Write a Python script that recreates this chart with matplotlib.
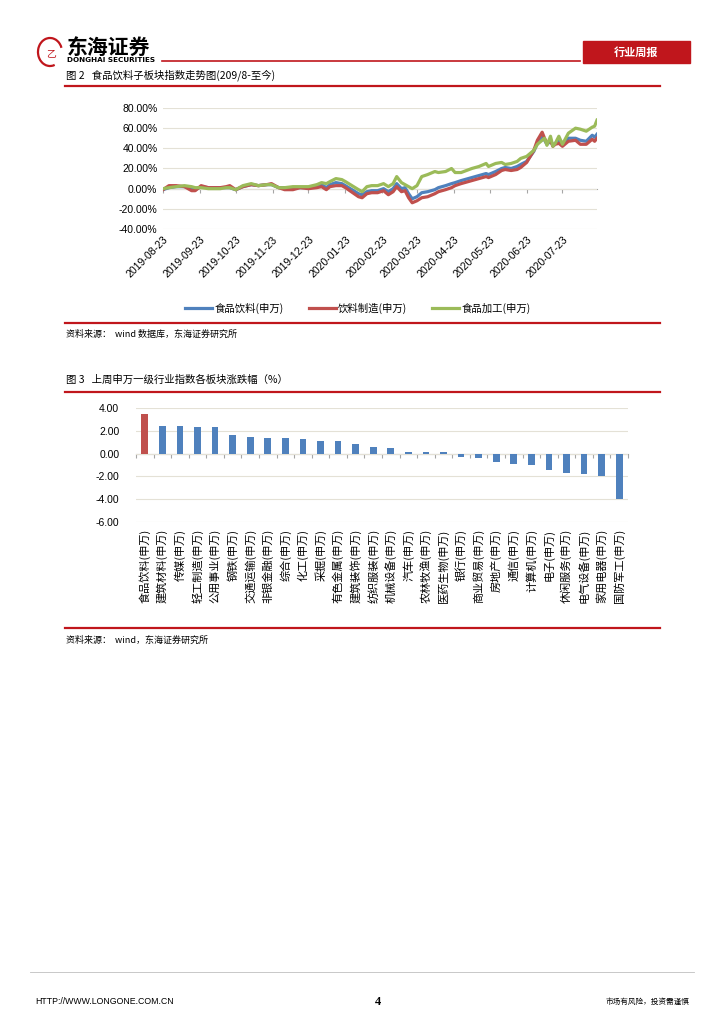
import matplotlib
matplotlib.use("Agg")
import matplotlib.pyplot as plt
import matplotlib.dates as mdates
from matplotlib.patches import Arc, Rectangle
import pandas as pd

plt.rcParams['font.family'] = ['Noto Sans CJK SC', 'DejaVu Sans']

# ---- chart 1 data: index change since 2019-08-23 (%) ----
dates = ["2019-08-23", "2019-08-28", "2019-09-03", "2019-09-10", "2019-09-16", "2019-09-19",
         "2019-09-24", "2019-09-30", "2019-10-10", "2019-10-15", "2019-10-18", "2019-10-23",
         "2019-10-29", "2019-11-05", "2019-11-11", "2019-11-18", "2019-11-22", "2019-11-28",
         "2019-12-03", "2019-12-10", "2019-12-16", "2019-12-23", "2019-12-30", "2020-01-03",
         "2020-01-07", "2020-01-10", "2020-01-15", "2020-01-20", "2020-01-23", "2020-02-03",
         "2020-02-06", "2020-02-10", "2020-02-14", "2020-02-19", "2020-02-24", "2020-02-28",
         "2020-03-03", "2020-03-06", "2020-03-10", "2020-03-13", "2020-03-16", "2020-03-19",
         "2020-03-23", "2020-03-27", "2020-04-01", "2020-04-07", "2020-04-10", "2020-04-16",
         "2020-04-21", "2020-04-24", "2020-04-29", "2020-05-08", "2020-05-14", "2020-05-20",
         "2020-05-22", "2020-05-28", "2020-06-02", "2020-06-05", "2020-06-10", "2020-06-15",
         "2020-06-18", "2020-06-23", "2020-06-29", "2020-07-02", "2020-07-06", "2020-07-08",
         "2020-07-10", "2020-07-13", "2020-07-15", "2020-07-17", "2020-07-20", "2020-07-23",
         "2020-07-28", "2020-08-03", "2020-08-07", "2020-08-12", "2020-08-17", "2020-08-19",
         "2020-08-21"]
food_bev = [-1, 1, 2, 2, 0, -1, 2, 1, 1, 1, 1, -1,
            2, 4, 3, 4, 4, 1, 1, 1, 1, 1, 3, 4,
            1, 4, 6, 5, 3, -5, -6, -3, -2, -2, 0, -3,
            0, 5, 0, 1, -5, -10, -8, -4, -3, -1, 1, 3,
            5, 6, 8, 11, 13, 15, 14, 17, 20, 21, 20, 22,
            24, 27, 37, 45, 52, 48, 44, 47, 43, 45, 47, 44,
            50, 50, 48, 47, 53, 51, 54]
beverage = [-1, 3, 3, 2, -2, -2, 3, 1, 1, 2, 3, -1,
            2, 4, 3, 4, 5, 1, -1, -1, 1, 0, 1, 2,
            -1, 2, 3, 3, 1, -8, -9, -5, -4, -4, -2, -6,
            -3, 2, -3, -2, -9, -14, -12, -9, -8, -5, -3, -1,
            1, 3, 5, 8, 10, 12, 11, 14, 18, 19, 18, 19,
            21, 26, 38, 48, 56, 50, 45, 48, 42, 44, 45, 42,
            47, 48, 44, 44, 49, 47, 50]
food_proc = [0, 1, 2, 3, 2, 1, 1, 0, 0, 1, 1, -1,
             3, 5, 3, 4, 4, 1, 1, 2, 2, 2, 4, 6,
             5, 7, 10, 9, 7, -1, -3, 2, 3, 3, 5, 2,
             5, 12, 6, 4, 2, 0, 3, 12, 14, 17, 16, 17,
             20, 16, 16, 20, 22, 25, 22, 25, 26, 24, 25, 27,
             30, 32, 38, 44, 48, 50, 43, 52, 42, 45, 52, 44,
             55, 60, 59, 57, 61, 62, 68]
month_ticks = ["2019-08-23", "2019-09-23", "2019-10-23", "2019-11-23", "2019-12-23",
               "2020-01-23", "2020-02-23", "2020-03-23", "2020-04-23", "2020-05-23",
               "2020-06-23", "2020-07-23"]
series_names = ["食品饮料(申万)", "饮料制造(申万)", "食品加工(申万)"]

# ---- chart 2 data: last week change of SW level-1 industries (%) ----
industries = ["食品饮料(申万)", "建筑材料(申万)", "传媒(申万)", "轻工制造(申万)", "公用事业(申万)",
              "钢铁(申万)", "交通运输(申万)", "非银金融(申万)", "综合(申万)", "化工(申万)",
              "采掘(申万)", "有色金属(申万)", "建筑装饰(申万)", "纺织服装(申万)", "机械设备(申万)",
              "汽车(申万)", "农林牧渔(申万)", "医药生物(申万)", "银行(申万)", "商业贸易(申万)",
              "房地产(申万)", "通信(申万)", "计算机(申万)", "电子(申万)", "休闲服务(申万)",
              "电气设备(申万)", "家用电器(申万)", "国防军工(申万)"]
changes = [3.48, 2.42, 2.42, 2.36, 2.30, 1.64, 1.46, 1.40, 1.40, 1.25,
           1.08, 1.08, 0.84, 0.58, 0.46, 0.14, 0.14, 0.14, -0.29, -0.35,
           -0.70, -0.88, -1.00, -1.40, -1.74, -1.82, -1.97, -4.00]

BLUE, RED, GREEN = "#4F81BD", "#C0504D", "#9BBB59"
PAGE_RED = "#C0161C"
GRID = "#E4E1D6"
AXIS_GRAY = "#A6A6A6"

W, H = 724, 1024
fig = plt.figure(figsize=(W / 100, H / 100), dpi=100)


def rect(x0, y0, x1, y1):
    # pixel box (top-left origin) -> figure fraction
    return [x0 / W, 1 - y1 / H, (x1 - x0) / W, (y1 - y0) / H]


# ---- page layer ----
page = fig.add_axes([0, 0, 1, 1])
page.set_xlim(0, W)
page.set_ylim(H, 0)
page.axis("off")

# logo
page.add_patch(Arc((50, 52), 24, 28, theta1=70, theta2=340, color=PAGE_RED, lw=1.6))
page.text(51, 53, "乙", color=PAGE_RED, fontsize=7, ha="center", va="center")
page.text(67, 47, "东海证券", fontsize=15, fontweight="bold", ha="left", va="center")
page.text(67, 60, "DONGHAI SECURITIES", fontsize=5.2, fontweight="bold",
          family="DejaVu Sans", ha="left", va="center")
page.plot([162, 580], [61, 61], color=PAGE_RED, lw=1.2)
page.add_patch(Rectangle((583, 41), 107, 22, color=PAGE_RED))
page.text(636, 52, "行业周报", color="white", fontsize=8, fontweight="bold",
          ha="center", va="center")

page.text(66, 75, "图 2   食品饮料子板块指数走势图(209/8-至今)", fontsize=7.5,
          ha="left", va="center")
page.plot([65, 660], [86, 86], color=PAGE_RED, lw=1.6)
page.plot([65, 660], [323, 323], color=PAGE_RED, lw=1.6)
page.text(66, 334, "资料来源：  wind 数据库，东海证券研究所", fontsize=6.5, ha="left", va="center")

page.text(66, 380, "图 3   上周申万一级行业指数各板块涨跌幅（%）", fontsize=7.5,
          ha="left", va="center")
page.plot([65, 660], [392, 392], color=PAGE_RED, lw=1.6)
page.plot([65, 660], [628, 628], color=PAGE_RED, lw=1.6)
page.text(66, 640, "资料来源：  wind，东海证券研究所", fontsize=6.5, ha="left", va="center")

page.plot([30, 694], [972, 972], color="#BFBFBF", lw=0.6)
page.text(35, 1002, "HTTP://WWW.LONGONE.COM.CN", fontsize=6.3, family="Liberation Sans",
          ha="left", va="center")
page.text(378, 1002, "4", fontsize=9, fontweight="bold", family="Liberation Serif",
          ha="center", va="center")
page.text(690, 1002, "市场有风险，投资需谨慎", fontsize=5.5, ha="right", va="center")

# ---- chart 1: line chart ----
x = mdates.date2num(pd.to_datetime(dates))
xt = mdates.date2num(pd.to_datetime(month_ticks))

ax1 = fig.add_axes(rect(163, 108, 597, 229))
lines = []
for vals, col, name in zip([food_bev, beverage, food_proc], [BLUE, RED, GREEN], series_names):
    ln, = ax1.plot(x, vals, color=col, lw=2.3, label=name, solid_joinstyle="round")
    lines.append(ln)
ax1.set_xlim(x[0], x[-1])
ax1.set_ylim(-40, 80)
ax1.set_yticks(range(-40, 81, 20))
ax1.set_yticklabels([f"{v:.2f}%" for v in range(-40, 81, 20)], fontsize=7.5,
                    family="Liberation Sans")
ax1.set_xticks(xt)
ax1.set_xticklabels(month_ticks, rotation=45, ha="right", rotation_mode="anchor",
                    fontsize=7.6, family="Liberation Sans")
ax1.tick_params(axis="both", length=0, pad=4)
ax1.grid(axis="y", color=GRID, lw=0.8)
ax1.set_axisbelow(True)
for s in ax1.spines.values():
    s.set_visible(False)
zero1 = ax1.secondary_xaxis(40 / 120)
zero1.set_xticks(xt)
zero1.tick_params(length=3, color=AXIS_GRAY, labelbottom=False, labeltop=False)
zero1.spines["bottom"].set_color(AXIS_GRAY)
zero1.spines["top"].set_color(AXIS_GRAY)

fig.legend(handles=lines, loc="center", bbox_to_anchor=(358 / W, 1 - 308 / H), ncol=3,
           frameon=False, fontsize=7.5, handlelength=2.6, columnspacing=2.4,
           handletextpad=0.2)

# ---- chart 2: bar chart ----
ax2 = fig.add_axes(rect(136, 408, 628, 522))
pos = list(range(len(industries)))
bar_colors = [RED] + [BLUE] * (len(industries) - 1)
ax2.bar(pos, changes, width=0.38, color=bar_colors, zorder=3)
ax2.set_xlim(-0.5, len(industries) - 0.5)
ax2.set_ylim(-6, 4)
ax2.set_yticks(range(-6, 5, 2))
ax2.set_yticklabels([f"{v:.2f}" for v in range(-6, 5, 2)], fontsize=7.5,
                    family="Liberation Sans")
ax2.set_xticks(pos)
ax2.set_xticklabels(industries, rotation=90, va="top", ha="center", fontsize=8)
ax2.tick_params(axis="both", length=0)
ax2.tick_params(axis="x", pad=5)
ax2.tick_params(axis="y", pad=12)
ax2.grid(axis="y", color=GRID, lw=0.8)
ax2.set_axisbelow(True)
for s in ax2.spines.values():
    s.set_visible(False)
zero2 = ax2.secondary_xaxis(0.6)
zero2.set_alignment("bottom")
zero2.set_xticks([p - 0.5 for p in pos] + [len(industries) - 0.5])
zero2.tick_params(length=3, color=AXIS_GRAY, labelbottom=False, labeltop=False)
zero2.spines["bottom"].set_color(AXIS_GRAY)
zero2.spines["top"].set_color(AXIS_GRAY)

fig.savefig("out.png", dpi=100)
